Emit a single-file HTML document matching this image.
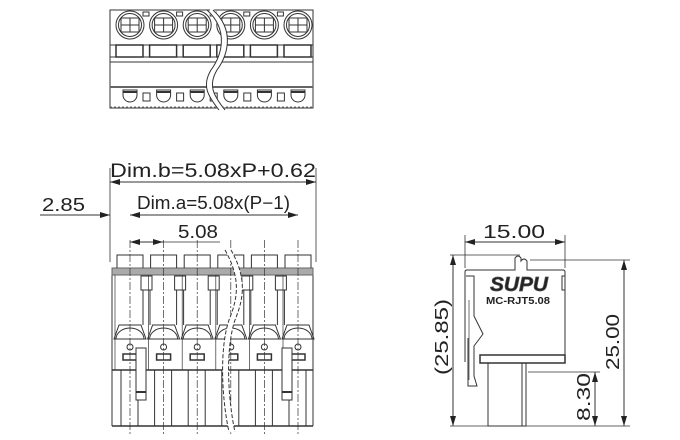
<!DOCTYPE html>
<html><head><meta charset="utf-8"><style>
html,body{margin:0;padding:0;background:#fff;width:680px;height:440px;overflow:hidden}
svg{display:block}
text{font-family:"Liberation Sans",sans-serif;fill:#222}
</style></head><body>
<svg width="680" height="440" viewBox="0 0 680 440" xmlns="http://www.w3.org/2000/svg">
<defs>
<marker id="a" viewBox="0 0 10 6" refX="10" refY="3" markerWidth="10" markerHeight="6" orient="auto-start-reverse" markerUnits="userSpaceOnUse"><path d="M0,0 L10,3 L0,6 z" fill="#222"/></marker>
</defs>
<g stroke="#333" fill="none" stroke-width="1">
<!-- TOP VIEW -->
<rect x="110" y="10" width="203" height="98"/>
<line x1="110" y1="45" x2="313" y2="45"/>
<line x1="110" y1="57" x2="313" y2="57"/>
<line x1="110" y1="62" x2="313" y2="62"/>
<line x1="110" y1="87" x2="313" y2="87" stroke-width="2" stroke="#666"/>
<line x1="110" y1="107" x2="313" y2="107" stroke="#777" stroke-dasharray="2 2"/>
<g id="tp">
<circle cx="130" cy="25" r="14"/><circle cx="130" cy="25" r="11.5"/>
<rect x="121" y="18" width="18" height="14"/><line x1="130" y1="18" x2="130" y2="32"/><line x1="121" y1="25" x2="139" y2="25"/>
<rect x="116" y="45" width="27" height="12" stroke-width="1.5"/>
<path d="M123,90 h14 v5 a7,7 0 0 1 -14,0 z"/><line x1="123" y1="92" x2="137" y2="92" stroke-width="2"/>
</g>
<use href="#tp" x="33.6"/><use href="#tp" x="67.2"/><use href="#tp" x="100.8"/><use href="#tp" x="134.4"/><use href="#tp" x="168"/>
<g id="tq"><rect x="143" y="93" width="7" height="8"/><rect x="143" y="12" width="6" height="4"/></g>
<use href="#tq" x="33.6"/><use href="#tq" x="67.2"/><use href="#tq" x="100.8"/><use href="#tq" x="134.4"/>
<path d="M210,10 C232,30 225,55 214,70 C205,85 210,95 222,110" stroke="#fff" stroke-width="6"/>
<path d="M207,10 C229,30 222,55 211,70 C202,85 207,95 219,110"/>
<path d="M213,10 C235,30 228,55 217,70 C208,85 213,95 225,110"/>

<!-- FRONT VIEW DIMENSIONS -->
<line x1="110" y1="168" x2="110" y2="262" stroke-width="0.8"/>
<line x1="316" y1="168" x2="316" y2="262" stroke-width="0.8"/>
<line x1="110" y1="182" x2="316" y2="182" marker-start="url(#a)" marker-end="url(#a)"/>
<line x1="40" y1="215" x2="110" y2="215" marker-end="url(#a)"/>
<line x1="130" y1="215" x2="298" y2="215" marker-start="url(#a)" marker-end="url(#a)"/>
<line x1="130" y1="242" x2="163" y2="242" marker-start="url(#a)" marker-end="url(#a)"/>
<line x1="163" y1="242" x2="220" y2="242" stroke-width="0.8"/>

<!-- FRONT VIEW BODY -->
<rect x="112" y="268" width="201" height="102"/>
<rect x="112" y="268" width="201" height="7" fill="#aaa" stroke="#666"/>
<line x1="112" y1="370" x2="313" y2="370" stroke-width="1.5"/>
<line x1="112" y1="426" x2="313" y2="426" stroke-width="1.5"/>
<line x1="112" y1="370" x2="112" y2="426"/><line x1="313" y1="370" x2="313" y2="426"/>
<g id="fp">
<path d="M117,268 v-13 h26 v13"/>
<line x1="130" y1="240" x2="130" y2="435" stroke-dasharray="8 2 2 2" stroke-width="0.7"/>
<line x1="115" y1="275" x2="115" y2="370" stroke-width="0.7"/>
<path d="M119,325 h22 l5,14 h-32 z"/><path d="M116,339 a14,11 0 0 1 28,0"/>
<circle cx="130" cy="347" r="3"/>
<rect x="123" y="354" width="14" height="6" stroke-width="1.5"/>
<line x1="121" y1="370" x2="121" y2="426"/><line x1="138" y1="370" x2="138" y2="426"/>
</g>
<use href="#fp" x="33.6"/><use href="#fp" x="67.2"/><use href="#fp" x="100.8"/><use href="#fp" x="134.4"/><use href="#fp" x="168"/>
<g id="fq">
<rect x="141" y="276" width="11" height="14"/>
<line x1="143" y1="290" x2="143" y2="325"/><line x1="150" y1="290" x2="150" y2="325"/>
</g>
<use href="#fq" x="33.6"/><use href="#fq" x="67.2"/><use href="#fq" x="100.8"/><use href="#fq" x="134.4"/>
<rect x="136" y="348" width="10" height="52" fill="#fff"/><line x1="136" y1="392" x2="146" y2="392" stroke-width="2"/>
<rect x="282" y="348" width="10" height="52" fill="#fff"/><line x1="282" y1="392" x2="292" y2="392" stroke-width="2"/>
<path d="M228,250 C245,280 240,300 232,320 C222,350 225,400 232,432" stroke="#fff" stroke-width="6"/>
<path d="M225,250 C242,280 237,300 229,320 C219,350 222,400 229,432" stroke-dasharray="4 2"/>
<path d="M231,250 C248,280 243,300 235,320 C225,350 228,400 235,432" stroke-dasharray="4 2"/>

<!-- SIDE VIEW -->
<line x1="465" y1="235" x2="465" y2="268" stroke-width="0.8"/>
<line x1="565" y1="235" x2="565" y2="268" stroke-width="0.8"/>
<line x1="465" y1="242" x2="565" y2="242" marker-start="url(#a)" marker-end="url(#a)"/>
<line x1="450" y1="255" x2="520" y2="255" stroke-width="0.8"/>
<line x1="530" y1="260" x2="630" y2="260" stroke-width="0.8"/>
<line x1="450" y1="426" x2="630" y2="426" stroke-width="0.8"/>
<line x1="528" y1="372" x2="600" y2="372" stroke-width="0.8"/>
<line x1="453" y1="255" x2="453" y2="426" marker-start="url(#a)" marker-end="url(#a)"/>
<line x1="624" y1="260" x2="624" y2="426" marker-start="url(#a)" marker-end="url(#a)"/>
<line x1="595" y1="372" x2="595" y2="426" marker-start="url(#a)" marker-end="url(#a)"/>
<path d="M465,362 V272 q0,-2 2,-2 H515 v-12 q3,-4 6,0 v3 q3,-4 6,0 v9 H563 q2,0 2,2 V362"/>
<rect x="480" y="355" width="85" height="8" stroke-width="1.5"/>
<path d="M488,363 V426 H526 V363"/><line x1="522" y1="363" x2="522" y2="426"/>
<path d="M466,276 h8 v40 l9,18 l-9,12 v30 l3,10 h-9 v-48"/>
<path d="M469,300 v80" stroke-width="0.7"/>
<rect x="562" y="276" width="3" height="14"/>
</g>
<g>
<text x="110" y="177" font-size="19" textLength="206" lengthAdjust="spacingAndGlyphs">Dim.b=5.08xP+0.62</text>
<text x="137" y="209" font-size="18" textLength="153" lengthAdjust="spacingAndGlyphs">Dim.a=5.08x(P−1)</text>
<text x="178" y="238" font-size="18" textLength="40" lengthAdjust="spacingAndGlyphs">5.08</text>
<text x="42" y="211" font-size="18" textLength="43" lengthAdjust="spacingAndGlyphs">2.85</text>
<text x="483" y="238" font-size="18" textLength="62" lengthAdjust="spacingAndGlyphs">15.00</text>
<text x="490" y="291" font-size="20" font-style="italic" font-weight="bold" fill="#fff" stroke="#555" stroke-width="0.7" textLength="58" lengthAdjust="spacingAndGlyphs">SUPU</text>
<text x="486" y="304" font-size="10" font-weight="bold" fill="#333" textLength="64" lengthAdjust="spacingAndGlyphs">MC-RJT5.08</text>
<text transform="translate(448,375) rotate(-90)" font-size="18" textLength="76" lengthAdjust="spacingAndGlyphs">(25.85)</text>
<text transform="translate(619,370) rotate(-90)" font-size="18" textLength="56" lengthAdjust="spacingAndGlyphs">25.00</text>
<text transform="translate(590,421) rotate(-90)" font-size="18" textLength="48" lengthAdjust="spacingAndGlyphs">8.30</text>
</g>
</svg>
</body></html>
